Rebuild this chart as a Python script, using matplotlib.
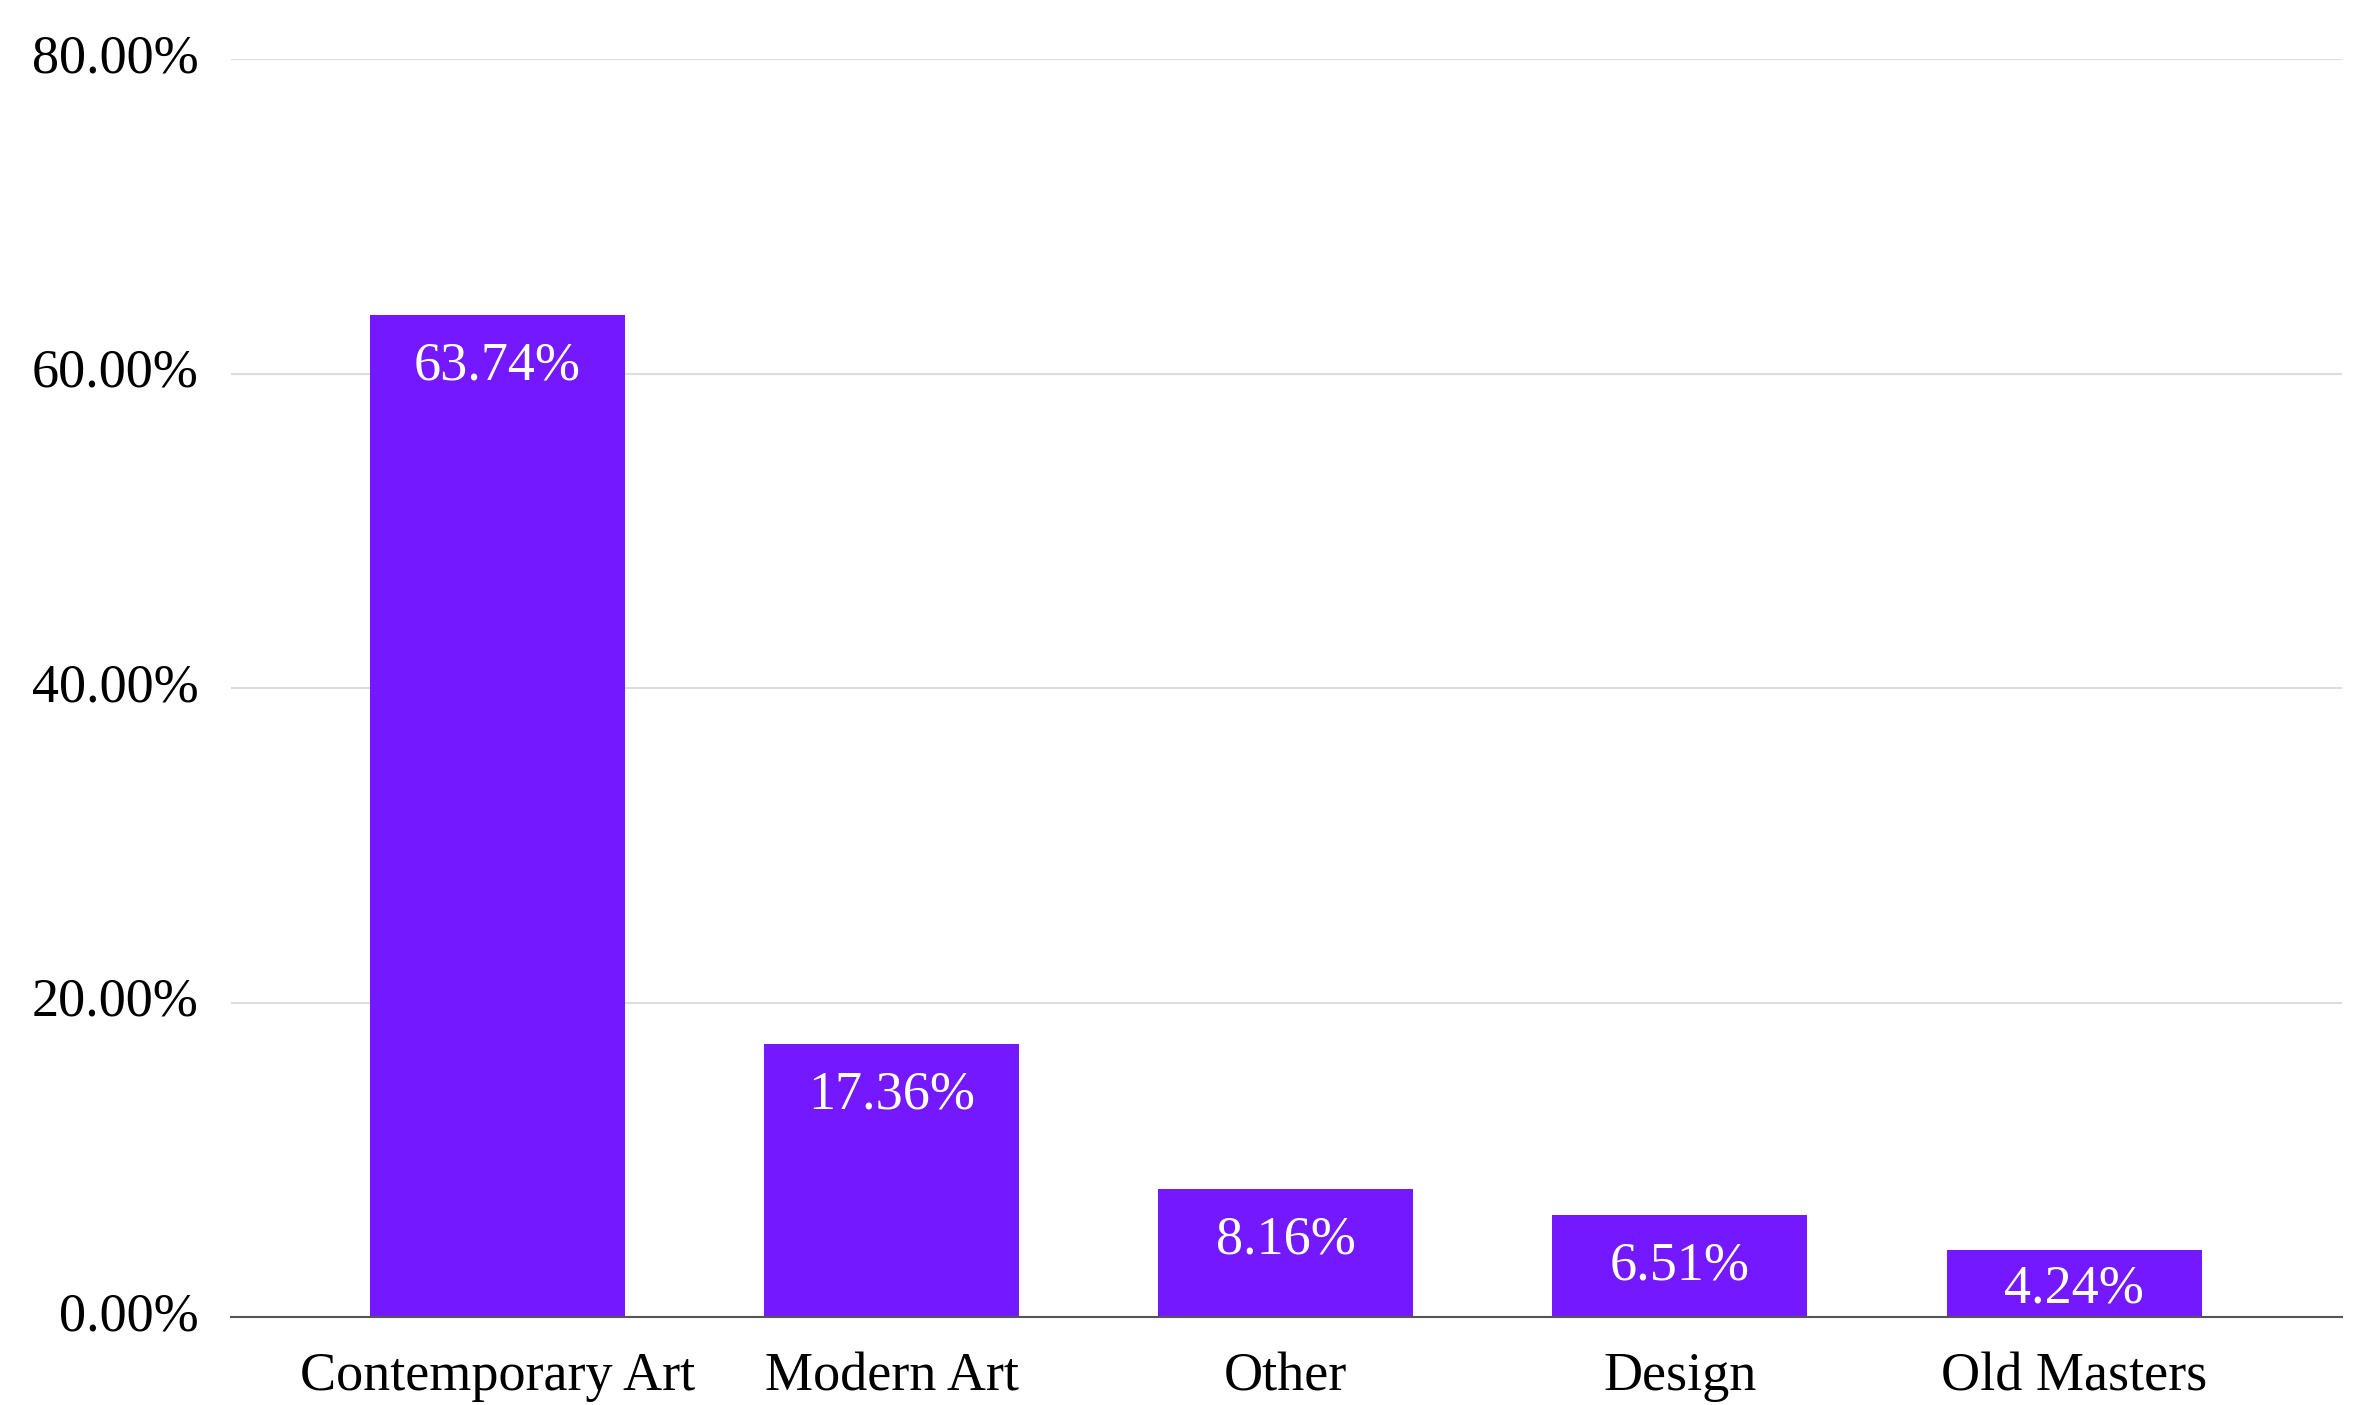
import numpy as np
from matplotlib import pyplot as plt

# data
categories = ['Contemporary Art', 'Modern Art', 'Other', 'Design', 'Old Masters']
shares = [63.74, 17.36, 8.16, 6.51, 4.24]
y_ticks = [0, 20, 40, 60, 80]

BAR_COLOR = '#7419FF'

plt.rcParams['font.family'] = ['Liberation Serif', 'DejaVu Serif']
plt.rcParams['font.size'] = 39

fig = plt.figure(figsize=(23.66, 14.05), dpi=100)
ax = fig.add_axes([0.0976, 0.0626, 0.8923, 0.8954])

index = np.arange(len(categories))
ax.bar(index, shares, 0.647, color=BAR_COLOR, zorder=3)

# value labels inside the bar tops
for i, v in enumerate(shares):
    y = max(v - 2.9, v / 2)
    ax.text(index[i], y, '%.2f%%' % v, color='white', ha='center', va='center_baseline', zorder=4)

ax.set_xlim(-0.676, 4.68)
ax.set_ylim(0, 80)
ax.set_yticks(y_ticks)
ax.set_yticklabels(['%.2f%%' % t for t in y_ticks], va='center')
ax.set_xticks(index)
ax.set_xticklabels(categories)

ax.grid(True, axis='y', color='#dddddd', linewidth=1.5, zorder=0)
ax.tick_params(axis='both', length=0, labelcolor='black')
ax.tick_params(axis='y', pad=23)
ax.tick_params(axis='x', pad=25)

for side in ['top', 'right', 'left']:
    ax.spines[side].set_visible(False)
ax.spines['bottom'].set_color('#555555')
ax.spines['bottom'].set_linewidth(1.5)
ax.spines['bottom'].set_zorder(5)

fig.savefig('out.png', dpi=100)
